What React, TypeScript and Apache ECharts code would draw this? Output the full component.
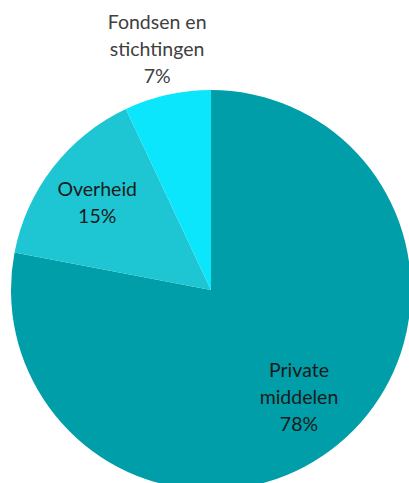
import React, { useEffect, useRef } from "react";
import * as echarts from "echarts";

const categories = ["Private\nmiddelen", "Overheid", "Fondsen en\nstichtingen"];
const values = [78, 15, 7];
const colors = ["#009EA8", "#1EC6D3", "#0BE6FD"];
const labelColors = ["#1a1a1a", "#1a1a1a", "#404040"];
const labelRadiusFactor = [0.69, 0.72, 1.235];

export default function App() {
  const ref = useRef<HTMLDivElement>(null);
  useEffect(() => {
    if (!ref.current) return;
    const chart = echarts.init(ref.current, null, { renderer: "svg" });
    const cx = 211;
    const cy = 290;
    const R = 200;
    const total = values.reduce((a, b) => a + b, 0);
    const mids: number[] = [];
    let acc = 0;
    values.forEach((v) => {
      mids.push(((acc + v / 2) / total) * Math.PI * 2);
      acc += v;
    });
    chart.setOption({
      animation: false,
      series: [
        {
          type: "pie",
          center: [cx, cy],
          radius: [0, R],
          startAngle: 90,
          clockwise: true,
          avoidLabelOverlap: false,
          label: {
            show: true,
            position: "inside",
            formatter: (p: any) => `${p.name}\n${p.value}%`,
            fontFamily: "Lato",
            fontSize: 19.5,
            lineHeight: 27,
            align: "center",
          },
          labelLine: { show: false },
          labelLayout: (p: any) => {
            const i = p.dataIndex;
            const r = R * labelRadiusFactor[i];
            return {
              x: cx + r * Math.sin(mids[i]),
              y: cy - r * Math.cos(mids[i]),
              align: "center",
              verticalAlign: "middle",
            };
          },
          emphasis: { disabled: true },
          itemStyle: { borderWidth: 0 },
          data: categories.map((c, i) => ({
            name: c,
            value: values[i],
            itemStyle: { color: colors[i] },
            label: { color: labelColors[i] },
          })),
        },
      ],
    });
    return () => chart.dispose();
  }, []);
  return (
    <div
      ref={ref}
      style={{ position: "fixed", left: 0, top: 0, width: 409, height: 483, background: "#fff" }}
    />
  );
}
